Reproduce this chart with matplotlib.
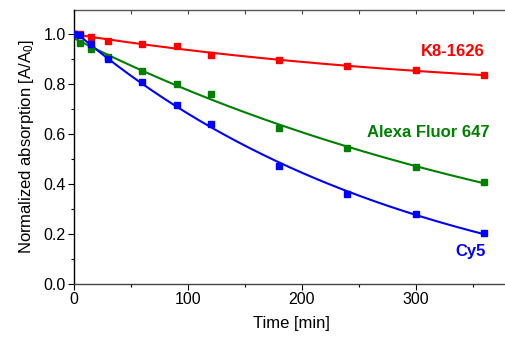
import numpy as np
import matplotlib
matplotlib.use("Agg")
import matplotlib.pyplot as plt
from matplotlib.ticker import MultipleLocator

plt.rcParams['font.family'] = ['Liberation Sans', 'DejaVu Sans']
plt.rcParams['mathtext.fontset'] = 'custom'
plt.rcParams['mathtext.rm'] = 'Liberation Sans'
plt.rcParams['mathtext.it'] = 'Liberation Sans:italic'

# time points (min)
t = [0, 5, 15, 30, 60, 90, 120, 180, 240, 300, 360]
# normalized absorption
k8_1626 = [1.0, 0.998, 0.987, 0.972, 0.961, 0.952, 0.917, 0.896, 0.873, 0.855, 0.834]
alexa647 = [1.0, 0.963, 0.939, 0.907, 0.853, 0.801, 0.759, 0.625, 0.543, 0.468, 0.409]
cy5 = [1.0, 0.996, 0.959, 0.899, 0.807, 0.715, 0.639, 0.471, 0.361, 0.279, 0.205]

names = ['K8-1626', 'Alexa Fluor 647', 'Cy5']
colors = ['#ff0000', '#008000', '#0000ff']


def expfit(x, y):
    # y = c + a*exp(-k x), brute force over k, linear lsq for a, c
    x = np.asarray(x, float)
    y = np.asarray(y, float)
    best = None
    for k in np.linspace(1e-4, 0.03, 3000):
        M = np.column_stack([np.ones_like(x), np.exp(-k * x)])
        coef = np.linalg.lstsq(M, y, rcond=None)[0]
        err = np.sum((M @ coef - y) ** 2)
        if best is None or err < best[0]:
            best = (err, k, coef)
    _, k, (c, a) = best
    return lambda xx: c + a * np.exp(-k * xx)


fig = plt.figure(figsize=(5.05, 3.4), dpi=100)
ax = fig.add_axes([0.1465, 0.1647, 0.862, 0.8059])

tt = np.linspace(0, 360, 300)
for y, col in zip([k8_1626, alexa647, cy5], colors):
    f = expfit(t, y)
    ax.plot(tt, f(tt), color=col, lw=1.5, zorder=2)
    ax.plot(t, y, 's', color=col, ms=4.5, mec=col, zorder=3)

ax.text(360.5, 0.929, names[0], color=colors[0], fontsize=12, fontweight='bold',
        ha='right', va='center')
ax.text(365, 0.605, names[1], color=colors[1], fontsize=12, fontweight='bold',
        ha='right', va='center')
ax.text(361.5, 0.132, names[2], color=colors[2], fontsize=12, fontweight='bold',
        ha='right', va='center')

ax.set_xlim(0, 382)
ax.set_ylim(0, 1.096)
ax.xaxis.set_major_locator(MultipleLocator(100))
ax.xaxis.set_minor_locator(MultipleLocator(50))
ax.yaxis.set_major_locator(MultipleLocator(0.2))
ax.yaxis.set_minor_locator(MultipleLocator(0.1))
ax.yaxis.set_major_formatter(matplotlib.ticker.FormatStrFormatter('%.1f'))

ax.tick_params(axis='both', which='major', labelsize=11.5, length=4, width=0.8, pad=2)
ax.tick_params(axis='both', which='minor', length=2, width=0.8)
ax.tick_params(axis='both', which='both', direction='out')
for sp in ax.spines.values():
    sp.set_linewidth(1.0)
ax.spines['bottom'].set_color('#444444')
ax.spines['top'].set_visible(False)

# top axis: ticks pointing inward, no labels
top = ax.secondary_xaxis('top')
top.xaxis.set_major_locator(MultipleLocator(100))
top.xaxis.set_minor_locator(MultipleLocator(50))
top.tick_params(which='both', direction='in', labeltop=False, width=0.8, color='#444444')
top.tick_params(which='major', length=3)
top.tick_params(which='minor', length=3)
top.spines['top'].set_color('#555555')
top.spines['top'].set_linewidth(1.0)

ax.set_xlabel('Time [min]', fontsize=12, labelpad=6)
ax.set_ylabel('Normalized absorption [A/A$_0$]', fontsize=12, labelpad=5)

fig.savefig('out.png', dpi=100)
